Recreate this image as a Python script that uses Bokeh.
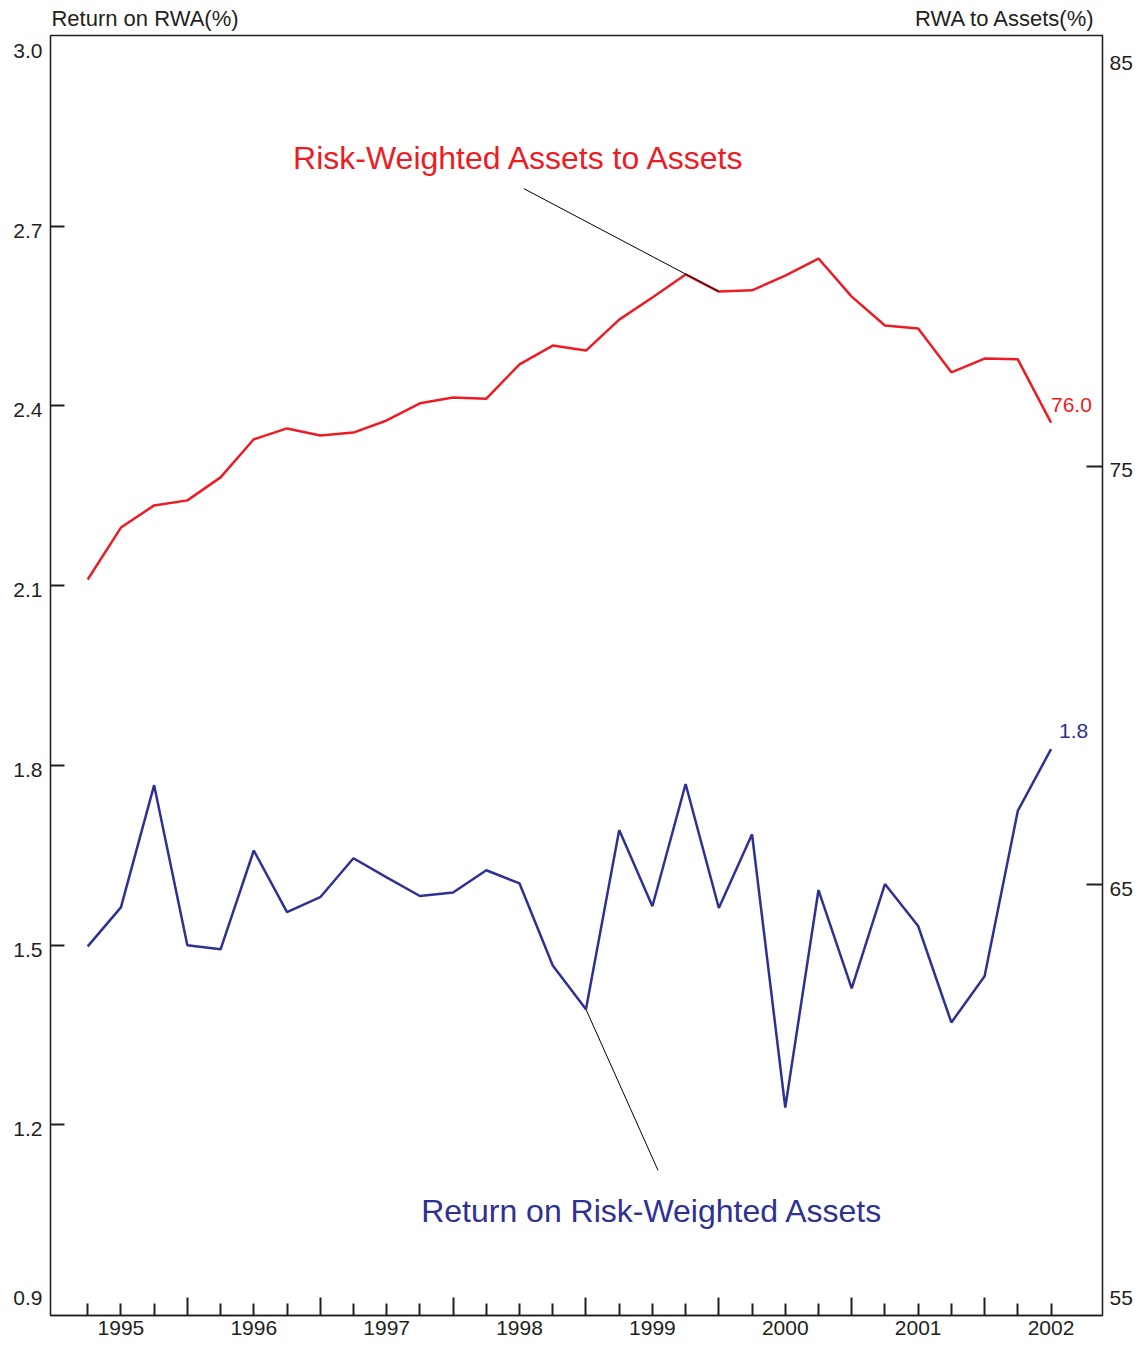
import numpy as np
from bokeh.plotting import figure
from bokeh.models import Range1d, LinearAxis, FixedTicker, Label, CustomJSTickFormatter
from bokeh.embed import file_html
from bokeh.resources import INLINE

# ---------------- data ----------------
quarters = ["1995Q1", "1995Q2", "1995Q3", "1995Q4",
            "1996Q1", "1996Q2", "1996Q3", "1996Q4",
            "1997Q1", "1997Q2", "1997Q3", "1997Q4",
            "1998Q1", "1998Q2", "1998Q3", "1998Q4",
            "1999Q1", "1999Q2", "1999Q3", "1999Q4",
            "2000Q1", "2000Q2", "2000Q3", "2000Q4",
            "2001Q1", "2001Q2", "2001Q3", "2001Q4",
            "2002Q1", "2002Q2"]

# Risk-weighted assets to assets (%), right axis
rwa_to_assets = [72.30, 73.54, 74.07, 74.19, 74.74, 75.65, 75.91, 75.74,
                 75.81, 76.10, 76.51, 76.65, 76.62, 77.44, 77.89, 77.77,
                 78.51, 79.04, 79.59, 79.18, 79.21, 79.56, 79.97, 79.06,
                 78.37, 78.30, 77.25, 77.58, 77.56, 76.05]

# Return on risk-weighted assets (%), left axis
return_on_rwa = [1.498, 1.563, 1.767, 1.500, 1.493, 1.658, 1.555, 1.580,
                 1.645, 1.613, 1.582, 1.588, 1.625, 1.603, 1.466, 1.393,
                 1.692, 1.565, 1.769, 1.562, 1.685, 1.229, 1.592, 1.428,
                 1.602, 1.532, 1.371, 1.448, 1.724, 1.827]

left_ticks = [1.2, 1.5, 1.8, 2.1, 2.4, 2.7]          # tick marks
left_labels = [0.9, 1.2, 1.5, 1.8, 2.1, 2.4, 2.7, 3.0]  # labelled values
right_ticks = [65, 75]
right_labels = [55, 65, 75, 85]
year_labels = ["1995", "1996", "1997", "1998", "1999", "2000", "2001", "2002"]
axis_titles = ["Return on RWA(%)", "RWA to Assets(%)"]

RED = "#ED1C24"
BLUE = "#2E3192"
INK = "#231F20"
FONT = "Liberation Sans"

x = np.arange(len(quarters))
x_start, x_end = -1.12, 30.55
yl_start, yl_end = 0.882, 3.018
yr_start, yr_end = 54.71, 85.30

# label placement (labels sit slightly below their tick, end labels pulled inward)
left_px = (yl_end - yl_start) / 1280.0
right_px = (yr_end - yr_start) / 1280.0
left_label_pos = []
for v in left_labels:
    if v == left_labels[0]:
        left_label_pos.append(v + 6.3 * left_px)
    elif v == left_labels[-1]:
        left_label_pos.append(v - 4.4 * left_px)
    else:
        left_label_pos.append(v - 4.5 * left_px)
right_label_pos = []
for v in right_labels:
    if v == right_labels[0]:
        right_label_pos.append(v + 5.0 * right_px)
    elif v == right_labels[-1]:
        right_label_pos.append(v - 14.5 * right_px)
    else:
        right_label_pos.append(v - 4.0 * right_px)

p = figure(width=1139, height=1345, output_backend="svg", toolbar_location=None,
           x_range=Range1d(x_start, x_end), y_range=Range1d(yl_start, yl_end),
           x_axis_type=None, y_axis_type=None,
           min_border_left=50, min_border_right=37, min_border_top=35, min_border_bottom=30)
p.extra_y_ranges = {"right": Range1d(yr_start, yr_end)}
p.outline_line_color = INK
p.outline_line_width = 1.3
p.background_fill_color = "white"
p.border_fill_color = "white"

def style_axis(ax):
    ax.axis_line_color = INK
    ax.axis_line_width = 1.3
    ax.major_tick_line_color = INK
    ax.major_tick_line_width = 2
    ax.minor_tick_line_color = INK
    ax.minor_tick_line_width = 2
    ax.major_label_text_font = FONT
    ax.major_label_text_font_size = "21px"
    ax.major_label_text_color = INK

# left axis: labels on (invisible) major ticks, marks on minor ticks
yl = LinearAxis(ticker=FixedTicker(ticks=left_label_pos, minor_ticks=left_ticks),
                formatter=CustomJSTickFormatter(code="return (Math.round(tick*10)/10).toFixed(1);"))
style_axis(yl)
yl.major_tick_in = 0
yl.major_tick_out = 0
yl.minor_tick_in = 14
yl.minor_tick_out = 0
yl.major_label_standoff = 8
p.add_layout(yl, "left")

yr = LinearAxis(y_range_name="right",
                ticker=FixedTicker(ticks=right_label_pos, minor_ticks=right_ticks),
                formatter=CustomJSTickFormatter(code="return Math.round(tick).toFixed(0);"))
style_axis(yr)
yr.major_tick_in = 0
yr.major_tick_out = 0
yr.minor_tick_in = 16
yr.minor_tick_out = 0
yr.major_label_standoff = 7
p.add_layout(yr, "right")

# bottom: short quarter ticks (no labels), then year labels with long Q4 ticks
q4 = [i for i, q in enumerate(quarters) if q.endswith("Q4")]
other_q = [i for i, q in enumerate(quarters) if not q.endswith("Q4")]
xt = LinearAxis(ticker=FixedTicker(ticks=[], minor_ticks=other_q))
style_axis(xt)
xt.minor_tick_in = 12
xt.minor_tick_out = 0
xt.major_tick_in = 0
xt.major_tick_out = 0
xt.major_label_standoff = 0
p.add_layout(xt, "below")

label_pos = [quarters.index(y + "Q2") for y in year_labels]
xl = LinearAxis(ticker=FixedTicker(ticks=label_pos, minor_ticks=q4),
                formatter=CustomJSTickFormatter(args=dict(labels=year_labels),
                                                code="return labels[index];"))
style_axis(xl)
xl.axis_line_color = None
xl.major_tick_in = 0
xl.major_tick_out = 0
xl.minor_tick_in = 18
xl.minor_tick_out = 0
xl.major_label_standoff = 5
p.add_layout(xl, "below")

# top: axis titles as labels of an "above" axis
xa = LinearAxis(ticker=FixedTicker(ticks=[1.725, 27.63], minor_ticks=[]),
                formatter=CustomJSTickFormatter(args=dict(labels=axis_titles),
                                                code="return labels[index];"))
style_axis(xa)
xa.axis_line_color = None
xa.major_tick_in = 0
xa.major_tick_out = 0
xa.major_label_standoff = 5
xa.major_label_text_font_size = "22px"
p.add_layout(xa, "above")

# ---- series ----
p.line(x, rwa_to_assets, y_range_name="right", line_color=RED, line_width=2.5)
p.line(x, return_on_rwa, line_color=BLUE, line_width=2.5)

# ---- leader lines ----
p.segment(x0=[13.13], y0=[81.64], x1=[19], y1=[rwa_to_assets[19]],
          y_range_name="right", line_color="black", line_width=1)
p.segment(x0=[15], y0=[return_on_rwa[15]], x1=[17.17], y1=[1.124],
          line_color="black", line_width=1)

# ---- text ----
def lab(**kw):
    base = dict(text_font=FONT, text_font_size="21px", text_color=INK)
    base.update(kw)
    p.add_layout(Label(**base))

lab(x=13.0, y=82.38, y_range_name="right", text="Risk-Weighted Assets to Assets",
    text_color=RED, text_font_size="32px", text_align="center", text_baseline="middle")
lab(x=16.99, y=1.056, text="Return on Risk-Weighted Assets",
    text_color=BLUE, text_font_size="32px", text_align="center", text_baseline="middle")

lab(x=len(quarters) - 1, y=76.48, y_range_name="right", text=f"{rwa_to_assets[-1]:.1f}",
    text_color=RED, text_align="left", text_baseline="middle")
lab(x=29.24, y=1.857, text=f"{return_on_rwa[-1]:.1f}",
    text_color=BLUE, text_align="left", text_baseline="middle")

open("out.html", "w").write(file_html(p, INLINE))
